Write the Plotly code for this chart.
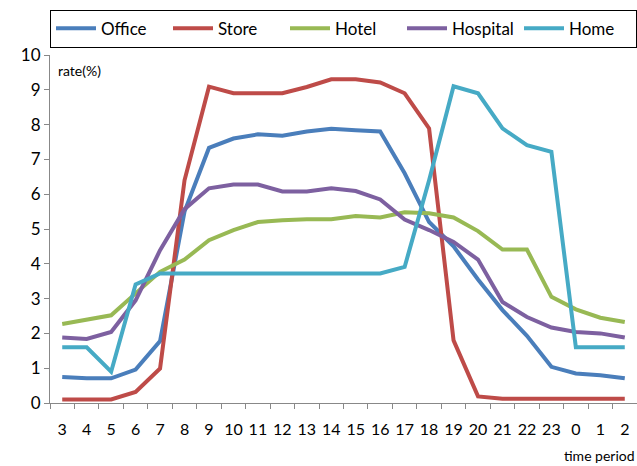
import plotly.graph_objects as go

# Hour-of-day labels, starting at 3 a.m. and wrapping past midnight
periods = ["3", "4", "5", "6", "7", "8", "9", "10", "11", "12", "13", "14",
           "15", "16", "17", "18", "19", "20", "21", "22", "23", "0", "1", "2"]

office = [0.75, 0.71, 0.71, 0.96, 1.78, 5.5, 7.33, 7.6, 7.72, 7.68, 7.8, 7.88,
          7.84, 7.8, 6.6, 5.2, 4.5, 3.55, 2.67, 1.93, 1.04, 0.85, 0.8, 0.71]
store = [0.1, 0.1, 0.1, 0.32, 0.99, 6.4, 9.09, 8.9, 8.9, 8.9, 9.08, 9.3,
         9.3, 9.21, 8.9, 7.89, 1.8, 0.19, 0.12, 0.12, 0.12, 0.12, 0.12, 0.12]
hotel = [2.27, 2.4, 2.52, 3.15, 3.77, 4.12, 4.68, 4.97, 5.2, 5.25, 5.28, 5.28,
         5.37, 5.33, 5.48, 5.45, 5.33, 4.94, 4.41, 4.41, 3.05, 2.69, 2.45, 2.33]
hospital = [1.88, 1.84, 2.04, 2.95, 4.39, 5.57, 6.17, 6.28, 6.28, 6.08, 6.08, 6.17,
            6.09, 5.85, 5.27, 4.97, 4.63, 4.12, 2.9, 2.47, 2.17, 2.04, 2.0, 1.88]
home = [1.6, 1.6, 0.9, 3.41, 3.72, 3.72, 3.72, 3.72, 3.72, 3.72, 3.72, 3.72,
        3.72, 3.72, 3.91, 6.4, 9.1, 8.9, 7.89, 7.41, 7.22, 1.6, 1.6, 1.6]

series = [
    ("Office", office, "#4A7EBB"),
    ("Store", store, "#BE4B48"),
    ("Hotel", hotel, "#98B954"),
    ("Hospital", hospital, "#7D60A0"),
    ("Home", home, "#46AAC5"),
]

FONT = "Lato, 'Open Sans', sans-serif"
AXIS_GREY = "#888888"

fig = go.Figure()
for name, values, color in series:
    fig.add_trace(go.Scatter(
        x=periods, y=values, name=name, mode="lines",
        line=dict(color=color, width=4),
    ))

fig.update_layout(
    width=637, height=466,
    margin=dict(l=50, r=0, t=55, b=63),
    paper_bgcolor="white", plot_bgcolor="white",
    font=dict(family=FONT, size=16, color="#000000"),
    showlegend=True,
    legend=dict(
        orientation="h",
        x=0.012, xanchor="left",
        y=1.13, yanchor="top",
        bordercolor="#000000", borderwidth=1,
        font=dict(family=FONT, size=17),
        itemwidth=40,
        entrywidth=62, entrywidthmode="pixels",
        traceorder="normal",
    ),
    xaxis=dict(
        type="category",
        range=[-0.5, 23.5],
        showline=True, linecolor=AXIS_GREY, linewidth=1,
        ticks="outside", ticklen=5, tickcolor=AXIS_GREY,
        tickson="boundaries",
        tickangle=0,
        ticklabelstandoff=12,
        showgrid=False, zeroline=False,
        tickfont=dict(family=FONT, size=16),
    ),
    yaxis=dict(
        range=[0, 10],
        dtick=1,
        showline=True, linecolor=AXIS_GREY, linewidth=1,
        ticks="outside", ticklen=5, tickcolor=AXIS_GREY,
        showgrid=False, zeroline=False,
        tickfont=dict(family=FONT, size=17),
    ),
    annotations=[
        dict(text="rate(%)", xref="paper", yref="paper", x=0.01, y=0.955,
             xanchor="left", yanchor="middle", showarrow=False,
             font=dict(family=FONT, size=14)),
        dict(text="time period", xref="paper", yref="paper", x=1.0, y=-0.15,
             xanchor="right", yanchor="middle", showarrow=False,
             font=dict(family=FONT, size=14)),
    ],
)

fig.write_html("out.html")
